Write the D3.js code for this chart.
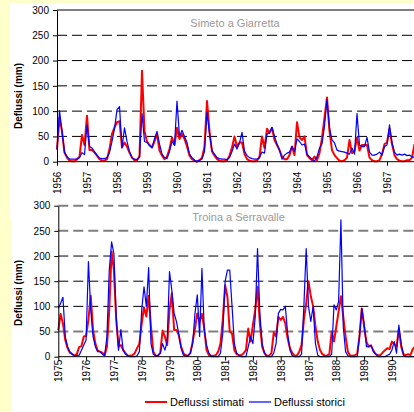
<!DOCTYPE html>
<html>
<head>
<meta charset="utf-8">
<script src="https://cdn.jsdelivr.net/npm/d3@7"></script>
<style>
body { margin: 0; background: #ffffcc; }
svg { display: block; font-family: "Liberation Sans", Arial, sans-serif; }
</style>
</head>
<body>
<div id="chart"></div>
<script>
/* monthly runoff (mm), one row per year */
var years1 = [1956, 1957, 1958, 1959, 1960, 1961, 1962, 1963, 1964, 1965, 1966, 1967];
var stimati1 = [
  25, 87, 60, 18, 8, 2, 1, 1, 5, 10, 53, 33,
  91, 23, 23, 18, 12, 5, 2, 2, 5, 25, 55, 68,
  78, 80, 28, 38, 30, 18, 8, 3, 3, 10, 180, 60,
  40, 33, 28, 40, 55, 22, 12, 5, 10, 25, 48, 33,
  67, 45, 55, 45, 30, 12, 5, 2, 0, 3, 8, 30,
  120, 60, 20, 12, 5, 2, 1, 1, 3, 12, 28, 50,
  30, 38, 38, 15, 5, 2, 1, 1, 2, 10, 50, 27,
  65, 57, 67, 43, 33, 23, 10, 5, 5, 13, 30, 13,
  78, 48, 43, 50, 13, 7, 3, 10, 3, 17, 47, 87,
  127, 60, 23, 13, 7, 2, 1, 3, 8, 43, 17, 21,
  48, 22, 33, 33, 33, 8, 3, 1, 1, 3, 15, 35,
  38, 65, 35, 13, 5, 2, 1, 1, 3, 3, 8, 35
];
var storici1 = [
  23, 101, 60, 19, 10, 5, 5, 5, 5, 8, 18, 14,
  73, 30, 27, 20, 13, 7, 6, 6, 8, 18, 40, 65,
  103, 109, 28, 67, 40, 20, 8, 5, 4, 10, 95, 40,
  38, 32, 28, 45, 60, 35, 15, 8, 6, 20, 40, 33,
  120, 50, 62, 50, 38, 15, 8, 3, 1, 3, 5, 20,
  98, 55, 22, 15, 8, 6, 5, 5, 4, 8, 20, 35,
  25, 37, 58, 21, 12, 8, 6, 5, 5, 8, 19, 17,
  55, 57, 68, 50, 35, 23, 5, 13, 17, 19, 30, 20,
  45, 40, 33, 35, 15, 10, 5, 1, 10, 27, 35, 70,
  123, 67, 43, 37, 23, 21, 20, 19, 17, 15, 27, 15,
  95, 33, 30, 30, 48, 19, 13, 13, 15, 19, 13, 30,
  33, 73, 37, 19, 13, 15, 13, 15, 12, 13, 10, 8
];

var years2 = [1975, 1976, 1977, 1978, 1979, 1980, 1981, 1982, 1983, 1987, 1988, 1989, 1990];
var stimati2 = [
  53, 85, 66, 33, 17, 8, 5, 2, 5, 19, 21, 40,
  41, 73, 121, 53, 26, 12, 10, 8, 3, 20, 93, 209,
  172, 73, 20, 23, 13, 7, 2, 2, 3, 7, 17, 26,
  66, 98, 80, 121, 60, 10, 2, 2, 7, 52, 40, 23,
  93, 126, 53, 53, 43, 20, 7, 3, 2, 7, 30, 56,
  86, 70, 85, 56, 13, 3, 2, 2, 3, 10, 26, 73,
  142, 119, 50, 46, 13, 5, 3, 3, 7, 13, 56, 30,
  63, 93, 139, 66, 20, 7, 2, 2, 7, 48, 40, 79,
  73, 79, 66, 36, 17, 7, 2, 2, 10, 23, 73, 106,
  150, 120, 100, 60, 30, 13, 5, 2, 2, 5, 50, 30,
  60, 90, 120, 80, 40, 10, 2, 2, 3, 5, 40, 96,
  60, 30, 20, 22, 12, 5, 3, 3, 8, 13, 17, 15,
  30, 25, 20, 55, 20, 5, 3, 5, 3, 15, 20, 20
];
var storici2 = [
  96, 106, 118, 40, 20, 10, 5, 2, 2, 3, 13, 23,
  33, 189, 93, 40, 20, 10, 10, 5, 2, 40, 172, 228,
  205, 79, 13, 54, 13, 5, 2, 0, 0, 0, 2, 10,
  93, 139, 100, 177, 26, 5, 2, 2, 7, 26, 13, 30,
  169, 132, 86, 70, 45, 17, 3, 2, 2, 7, 26, 86,
  123, 40, 175, 53, 23, 7, 0, 0, 0, 0, 7, 46,
  149, 172, 172, 100, 26, 7, 2, 0, 0, 0, 20, 40,
  26, 79, 215, 86, 26, 7, 0, 0, 0, 7, 26, 86,
  94, 93, 100, 46, 13, 2, 0, 0, 0, 5, 100, 215,
  100, 70, 100, 26, 3, 0, 0, 0, 0, 0, 5, 103,
  93, 110, 272, 60, 10, 2, 0, 0, 0, 0, 40, 96,
  66, 20, 20, 23, 10, 5, 0, 0, 0, 0, 3, 5,
  13, 30, 7, 63, 26, 3, 0, 0, 0, 0, 0, 0
];

var yTicks = [0, 50, 100, 150, 200, 250, 300];
var titles = ["Simeto a Giarretta", "Troina a Serravalle"];
var legendLabels = ["Deflussi stimati", "Deflussi storici"];

var W = 414, H = 412;

var svg = d3.select("#chart")
            .append("svg")
            .attr("width", W)
            .attr("height", H);

// white sheet over the yellow page
svg.append("rect").attr("x", 10).attr("y", 3).attr("width", W - 10).attr("height", 217).attr("fill", "#fff");
svg.append("rect").attr("x", 12).attr("y", 200).attr("width", W - 12).attr("height", H - 200).attr("fill", "#fff");

function drawPanel(p) {
  var n = p.years.length * 12;
  var x = d3.scaleLinear().domain([0, n]).range([p.left, p.left + p.years.length * p.yearW]);
  var y = d3.scaleLinear().domain([0, 300]).range([p.bottom, p.top]);
  var g = svg.append("g");

  // gridlines
  g.selectAll(null)
   .data(yTicks.filter(function (d) { return d > 0; }))
   .enter()
   .append("line")
   .attr("x1", p.left)
   .attr("x2", W)
   .attr("y1", function (d) { return y(d); })
   .attr("y2", function (d) { return y(d); })
   .attr("stroke", function (d) { return p.grayLines.indexOf(d) >= 0 ? "#7f7f7f" : "#000"; })
   .attr("stroke-width", function (d) { return p.grayLines.indexOf(d) >= 0 ? 2 : 1; })
   .attr("stroke-dasharray", function (d) { return (d === 300 && p.solidTop) ? null : "10,5"; });

  g.append("text")
   .attr("x", p.titleX)
   .attr("y", p.titleY)
   .attr("fill", "#999")
   .attr("font-size", 11)
   .attr("text-anchor", "middle")
   .text(p.title);

  var line = d3.line()
               .x(function (d, i) { return x(i); })
               .y(function (d) { return y(d); });

  g.append("path")
   .datum(p.stimati)
   .attr("d", line)
   .attr("fill", "none")
   .attr("stroke", "#ff0000")
   .attr("stroke-width", 2)
   .attr("stroke-linejoin", "round");

  g.append("path")
   .datum(p.storici)
   .attr("d", line)
   .attr("fill", "none")
   .attr("stroke", "#0000ff")
   .attr("stroke-width", 1.2)
   .attr("stroke-linejoin", "round");

  var yAxis = d3.axisLeft(y).tickValues(yTicks).tickSize(4).tickSizeOuter(0).tickPadding(4);
  g.append("g")
   .attr("transform", "translate(" + p.left + ",0)")
   .attr("font-size", 11)
   .attr("font-family", null)
   .call(yAxis);

  var xAxis = d3.axisBottom(x)
                .tickValues(d3.range(0, n, 12))
                .tickFormat(function (d) { return p.years[d / 12]; })
                .tickSize(4)
                .tickSizeOuter(0);
  var xg = g.append("g")
            .attr("transform", "translate(0," + p.bottom + ")")
            .attr("font-size", p.xFont)
            .attr("font-family", null)
            .call(xAxis);
  xg.select(".domain").attr("d", "M" + p.left + ",0H" + W);
  xg.selectAll("text")
    .attr("transform", "rotate(-90)")
    .attr("x", -p.xLabelGap)
    .attr("y", 0)
    .attr("dy", "0.35em")
    .style("text-anchor", "end");

  g.append("text")
   .attr("transform", "translate(22," + p.yTitleY + ") rotate(-90)")
   .attr("font-size", 10)
   .attr("font-weight", "bold")
   .attr("text-anchor", "middle")
   .text("Deflussi (mm)");
}

drawPanel({
  years: years1, stimati: stimati1, storici: storici1, title: titles[0],
  left: 57, yearW: 30, top: 10, bottom: 161.7,
  grayLines: [], solidTop: true,
  titleX: 235, titleY: 27, yTitleY: 96, xFont: 10, xLabelGap: 10
});

drawPanel({
  years: years2, stimati: stimati2, storici: storici2, title: titles[1],
  left: 58.3, yearW: 27.8, top: 205.7, bottom: 356.7,
  grayLines: [300, 250, 50], solidTop: false,
  titleX: 238.5, titleY: 221, yTitleY: 293, xFont: 11.5, xLabelGap: 3
});

/* legend */
var legendX = [145, 249];
var legendColors = ["#ff0000", "#0000ff"];
var lg = svg.append("g");
lg.selectAll(null)
  .data(legendLabels)
  .enter()
  .append("line")
  .attr("x1", function (d, i) { return legendX[i]; })
  .attr("x2", function (d, i) { return legendX[i] + 22; })
  .attr("y1", 402)
  .attr("y2", 402)
  .attr("stroke", function (d, i) { return legendColors[i]; })
  .attr("stroke-width", function (d, i) { return i === 0 ? 2 : 1.2; });
lg.selectAll(null)
  .data(legendLabels)
  .enter()
  .append("text")
  .attr("x", function (d, i) { return legendX[i] + 25; })
  .attr("y", 406)
  .attr("font-size", 11)
  .text(function (d) { return d; });
</script>
</body>
</html>
